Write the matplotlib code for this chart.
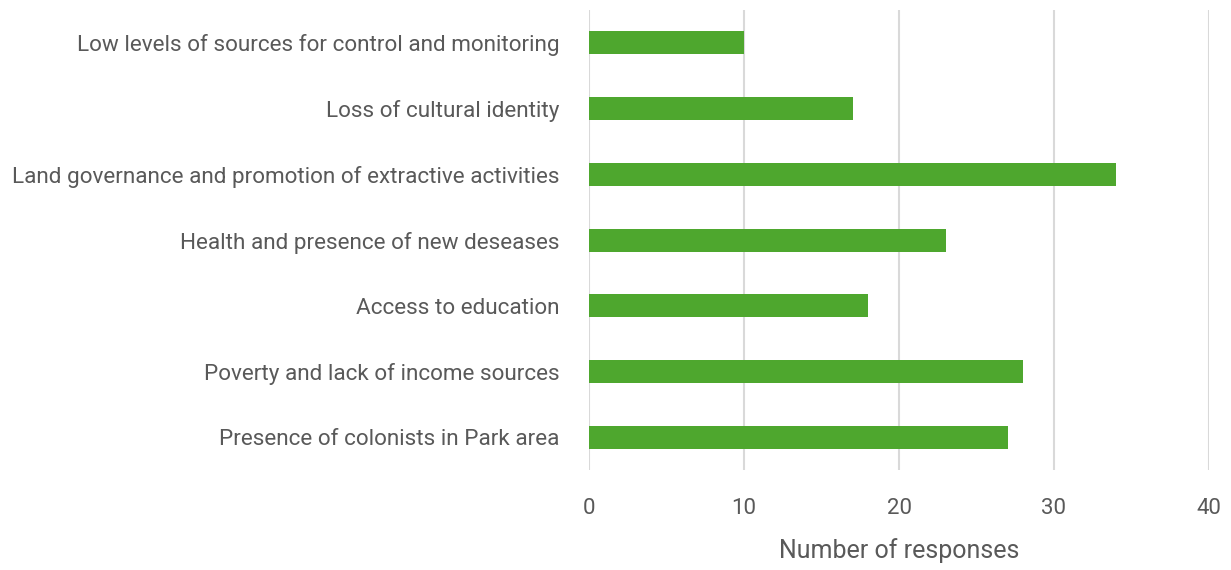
import matplotlib
matplotlib.use("Agg")
import matplotlib.pyplot as plt

categories = [
    "Presence of colonists in Park area",
    "Poverty and lack of income sources",
    "Access to education",
    "Health and presence of new deseases",
    "Land governance and promotion of extractive activities",
    "Loss of cultural identity",
    "Low levels of sources for control and monitoring",
]
values = [27, 28, 18, 23, 34, 17, 10]
xticks = [0, 10, 20, 30, 40]

text_color = "#595959"
plt.rcParams["font.family"] = ["Roboto", "DejaVu Sans"]

fig = plt.figure(figsize=(12.31, 5.70), dpi=100)
ax = fig.add_axes([589/1231, 1-470/570, (1209-589)/1231, 460/570])
ax.barh(range(len(categories)), values, height=0.35, color="#4EA72E", zorder=3)
ax.set_xlim(0, 40)
ax.set_ylim(-0.5, 6.5)
ax.set_yticks(range(len(categories)))
ax.set_yticklabels(categories)
ax.set_xticks(xticks)
ax.xaxis.grid(True, color="#D9D9D9", linewidth=1.5, zorder=0)
for s in ax.spines.values():
    s.set_visible(False)
ax.tick_params(axis="both", length=0, colors=text_color, labelsize=16.2)
ax.tick_params(axis="y", pad=21)
ax.tick_params(axis="x", pad=20, labelsize=16)
ax.set_xlabel("Number of responses", fontsize=18, color=text_color, labelpad=14)
fig.savefig("out.png", dpi=100)
